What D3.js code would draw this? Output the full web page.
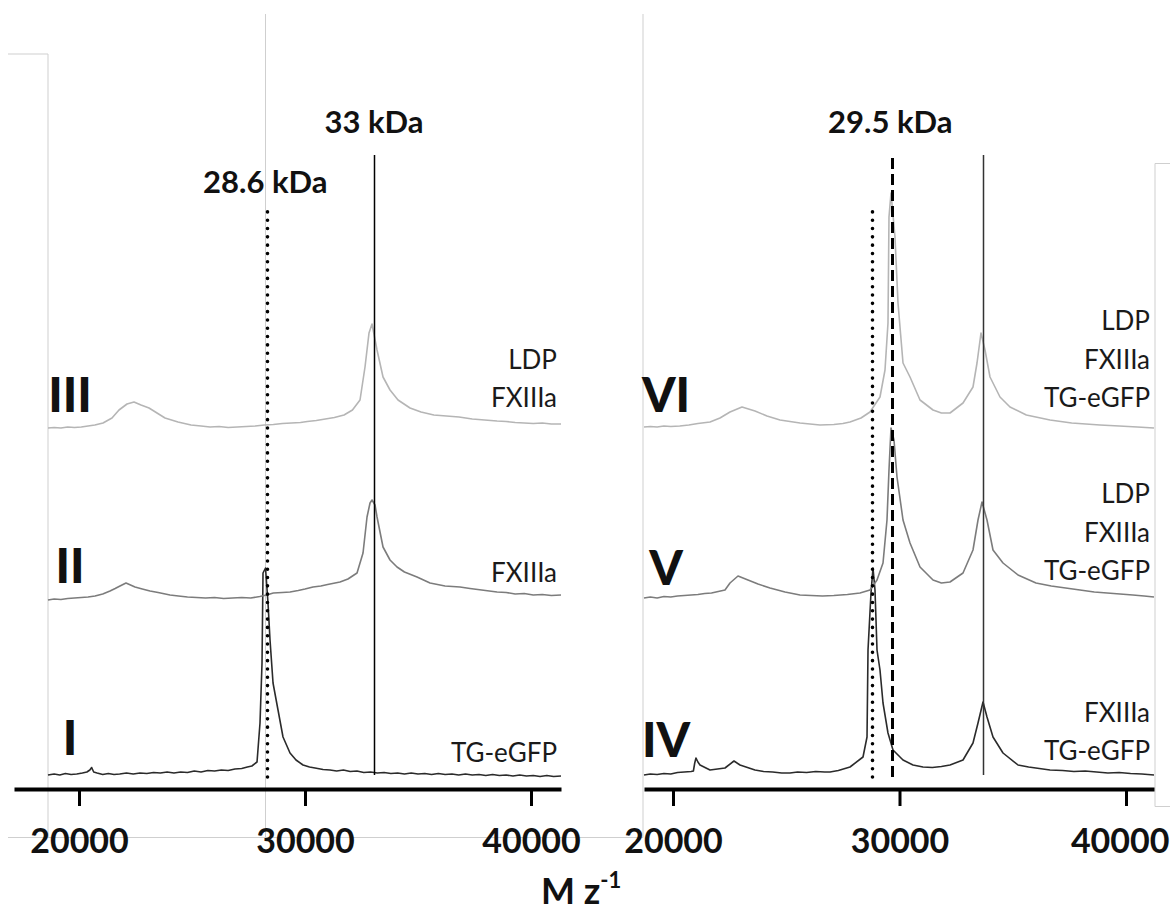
<!DOCTYPE html>
<html>
<head>
<meta charset="utf-8">
<script src="https://cdn.jsdelivr.net/npm/d3@7"></script>
<style>
  body { margin: 0; background: #fff; }
  svg text { font-family: Lato, "Open Sans", sans-serif; }
</style>
</head>
<body>
<svg id="chart" width="1170" height="911"></svg>
<script>
// Spectra: [mass (Da), intensity above its own baseline]
const traceI = [
  [18628, 0], [18900, 1], [19150, 0], [19400, 1.5], [19650, 0.5], [19900, 1], [20150, 2], [20350, 3],
  [20480, 5], [20560, 7.5], [20650, 3], [20800, 2], [21050, 0.5], [21300, 1.5], [21550, 0.5], [21800, 1],
  [22100, 2], [22400, 1], [22700, 2], [23000, 1.5], [23300, 2.5], [23600, 2], [23900, 3], [24200, 2],
  [24500, 3], [24800, 2.5], [25100, 4], [25400, 3], [25700, 4.5], [26000, 4], [26300, 5], [26600, 4.5],
  [26900, 6], [27200, 6.5], [27450, 8], [27650, 9], [27877, 13], [28009, 52], [28098, 112], [28142, 202],
  [28253, 207], [28363, 172], [28452, 135], [28585, 92], [28806, 65], [29027, 38], [29337, 22], [29602, 15],
  [29912, 10], [30200, 8], [30443, 7], [30800, 5.5], [31107, 5], [31400, 4], [31700, 5], [32000, 3.5],
  [32300, 4], [32600, 2.5], [32900, 3], [33200, 2], [33500, 2.5], [33800, 1.5], [34100, 2], [34400, 1],
  [34700, 2], [35000, 1], [35300, 1.5], [35600, 0.5], [35900, 1.5], [36200, 0.5], [36500, 1], [36800, 0],
  [37100, 1], [37400, 0], [37700, 0.5], [38000, -0.5], [38300, 0.5], [38600, -0.5], [38900, 0], [39200, -1],
  [39500, 0], [39800, -1], [40100, -0.5], [40400, -1.5], [40700, -0.5], [41000, -1.5], [41327, -1]
];
const traceII = [
  [18628, -1], [18900, 0], [19200, -0.5], [19500, 0.5], [19800, 1], [20100, 1.5], [20400, 2], [20708, 3],
  [21050, 5], [21372, 8], [21600, 10.5], [21814, 13], [22080, 16], [22478, 12], [22800, 10], [23142, 8],
  [23500, 6.5], [24027, 4], [24400, 3], [24800, 2], [25200, 1.5], [25600, 1], [26000, 1.5], [26400, 0.5],
  [26800, 1], [27200, 1.5], [27600, 1], [28000, 2.5], [28300, 4], [28600, 6], [29000, 6.5], [29337, 7],
  [29700, 8.5], [30000, 10], [30355, 12], [30700, 13], [31000, 14.5], [31549, 17], [31900, 20], [32302, 26],
  [32567, 46], [32744, 82], [32877, 96], [32965, 99], [33098, 94], [33187, 82], [33452, 52], [33762, 39],
  [34072, 32], [34400, 27], [34957, 22], [35532, 16], [36196, 13], [36859, 12], [37300, 10.5], [38497, 7],
  [38900, 6.5], [39300, 5], [39700, 5.5], [40100, 4], [40500, 4.5], [40900, 3.5], [41327, 4]
];
const traceIII = [
  [18628, 0], [18900, 0.5], [19200, 0], [19500, 1], [19800, 0.5], [20100, 1], [20400, 2], [20700, 3],
  [21062, 5], [21460, 10], [21770, 18], [22124, 24], [22434, 26], [22744, 23], [23098, 20], [23452, 15],
  [23806, 10], [24381, 6], [24956, 3], [25400, 2], [25800, 1], [26200, 1.5], [26600, 0.5], [27000, 1],
  [27400, 1.5], [27800, 2], [28200, 3], [28600, 3.5], [29000, 4.5], [29400, 5], [29800, 5.5], [30100, 6.5],
  [30500, 7.5], [30900, 9], [31300, 10.5], [31726, 13], [32100, 18], [32434, 28], [32655, 61], [32832, 95],
  [32965, 104], [33187, 78], [33452, 51], [33762, 38], [34116, 28], [34647, 20], [35133, 16], [35700, 13],
  [36815, 11], [37400, 9], [38497, 7], [38900, 6.5], [39300, 5.5], [39700, 5], [40100, 4.5], [40500, 5],
  [40900, 4], [41327, 4]
];
const traceIV = [
  [18720, 0], [19000, 1], [19300, 0.5], [19600, 1.5], [19900, 1], [20200, 2.5], [20500, 3], [20800, 3.5],
  [20900, 4], [20960, 12], [21015, 17], [21100, 13], [21192, 10], [21634, 5], [22296, 7], [22693, 14],
  [22958, 10], [23620, 5], [24000, 3.5], [24400, 3], [24800, 2], [25165, 2], [25500, 3], [25900, 2.5],
  [26300, 3.5], [26700, 3], [26932, 3], [27300, 4.5], [27815, 8], [28389, 18], [28566, 38], [28610, 125],
  [28742, 182], [28830, 207], [28918, 185], [29007, 125], [29139, 105], [29272, 72], [29492, 42], [29713, 25],
  [30155, 15], [30596, 10], [31038, 8], [31450, 7.5], [31850, 8.5], [32230, 10], [32804, 15], [33245, 32],
  [33466, 52], [33687, 73], [33863, 58], [34128, 38], [34570, 22], [35232, 10], [35700, 8], [36645, 5],
  [37200, 4.5], [37700, 3.5], [38200, 4], [38700, 3], [39200, 2], [39700, 2.5], [40200, 1.5], [40700, 1],
  [41236, 0]
];
const traceV = [
  [18720, 0], [19000, 1], [19300, 0], [19600, 1.5], [19900, 1], [20200, 2], [20500, 2.5], [20800, 3],
  [21100, 3.5], [21400, 4.5], [21700, 5], [22296, 8], [22517, 15], [22870, 22], [23311, 18], [23753, 14],
  [24283, 10], [24945, 6], [25607, 3], [26100, 2.5], [26600, 2], [27100, 2.5], [27700, 3.5], [28256, 5],
  [28698, 8], [29007, 18], [29272, 35], [29448, 78], [29536, 128], [29625, 170], [29757, 158], [29890, 121],
  [30155, 78], [30464, 55], [30906, 31], [31480, 18], [31850, 15], [32230, 16], [32804, 25], [33245, 48],
  [33466, 78], [33643, 96], [33863, 78], [34128, 48], [34570, 35], [35232, 23], [36026, 15], [36700, 12],
  [37969, 8], [38600, 6], [39735, 4], [40300, 3], [40800, 2], [41236, 1]
];
const traceVI = [
  [18720, 0], [19000, 0.5], [19300, 0], [19600, 1], [19900, 0.5], [20300, 1], [20700, 2], [21100, 3.5],
  [21634, 5], [22075, 9], [22517, 15], [23046, 20], [23620, 16], [24150, 11], [24724, 7], [25607, 4],
  [26490, 2], [27100, 2.5], [27500, 3.5], [27815, 5], [28300, 9], [28698, 15], [29139, 30], [29360, 57],
  [29492, 104], [29536, 210], [29625, 234], [29801, 190], [29934, 124], [30155, 64], [30464, 50], [30906, 27],
  [31480, 17], [31850, 14], [32230, 14], [32804, 24], [33245, 40], [33422, 64], [33598, 94], [33775, 77],
  [33996, 50], [34437, 30], [34879, 20], [35600, 12], [36645, 7], [37600, 4], [38852, 2], [39700, 1],
  [40500, 0], [41236, -1]
];

// Vertical offsets of the stacked spectra (same intensity units)
const leftOffsets = [14, 190, 361];
const rightOffsets = [14, 191, 362];

const leftNumerals = ["I", "II", "III"];
const rightNumerals = ["IV", "V", "VI"];
const leftSamples = [["TG-eGFP"], ["FXIIIa"], ["LDP", "FXIIIa"]];
const rightSamples = [["FXIIIa", "TG-eGFP"], ["LDP", "FXIIIa", "TG-eGFP"], ["LDP", "FXIIIa", "TG-eGFP"]];

const tickValues = [20000, 30000, 40000];

// Reference masses marked by vertical lines
const leftMarkerMasses = [28330, 33050];
const leftMarkerLabels = ["28.6 kDa", "33 kDa"];
const rightMarkerMasses = [28800, 29680, 33690];
const rightMarkerLabels = ["", "29.5 kDa", ""];

const svg = d3.select("#chart");
const y = d3.scaleLinear().domain([0, 775]).range([789, 14]);

const traceColors = ["#2b2b2b", "#7c7c7c", "#b5b5b5"];

// Faint frame lines left over from the composite figure
const frame = svg.append("g").attr("stroke", "#cfcfcf").attr("stroke-width", 1).attr("fill", "none");
[
  [[8, 54], [48, 54], [48, 837]],
  [[265.5, 14], [265.5, 837]],
  [[8, 837.5], [643, 837.5], [643, 14]],
  [[1170, 163.5], [1155, 163.5], [1155, 806.5], [1170, 806.5]]
].forEach((pts) => frame.append("path").attr("d", d3.line()(pts)));

function drawPanel(cfg) {
  const g = svg.append("g");
  const x = d3.scaleLinear().domain(cfg.axisDomain).range(cfg.axisRange);

  const line = d3
    .line()
    .x((d) => x(d[0]))
    .curve(d3.curveLinear);

  // Spectra
  cfg.traces.forEach((trace, i) => {
    g.append("path")
      .datum(trace)
      .attr("fill", "none")
      .attr("stroke", traceColors[i])
      .attr("stroke-width", 1.6)
      .attr("stroke-linejoin", "round")
      .attr("d", line.y((d) => y(d[1] + cfg.offsets[i])));
  });

  // Marker lines (snapped to the pixel grid so the dots stay crisp)
  cfg.markers.forEach((m, i) => {
    const style = cfg.markerStyles[i];
    const px = Math.round(x(m)) + 0.5;
    const mark = g.append("line")
      .attr("x1", px)
      .attr("x2", px)
      .attr("y1", y(style === "solid" ? 14 : 12))
      .attr("y2", y(style === "dotted" ? 579 : 634));

    if (style === "dotted") {
      mark.attr("stroke", "#000").attr("stroke-width", 3.6)
        .attr("stroke-linecap", "round").attr("stroke-dasharray", "0.01 8.3");
    } else if (style === "dashed") {
      mark.attr("stroke", "#000").attr("stroke-width", 3).attr("stroke-dasharray", "11 5");
    } else {
      mark.attr("stroke", cfg.solidColor).attr("stroke-width", 1.5);
    }
  });

  cfg.markerLabels.forEach((label, i) => {
    if (!label) return;
    g.append("text")
      .attr("x", x(cfg.markers[i]) + (cfg.labelShift[i] || 0))
      .attr("y", y(cfg.labelLevels[i]))
      .attr("text-anchor", "middle")
      .attr("font-size", 31)
      .attr("font-weight", "bold")
      .attr("fill", "#111")
      .text(label);
  });

  // Roman numerals and sample names
  const xStart = x(cfg.traceDomain[0]);
  const xEnd = x(cfg.traceDomain[1]);
  cfg.numerals.forEach((n, i) => {
    g.append("text")
      .attr("x", xStart + 22)
      .attr("y", y(cfg.offsets[i] + cfg.numeralLift[i]))
      .attr("text-anchor", "middle")
      .attr("font-size", 48)
      .attr("font-weight", 900)
      .attr("fill", "#111")
      .text(n);
  });

  cfg.samples.forEach((lines, i) => {
    lines.forEach((s, j) => {
      g.append("text")
        .attr("x", xEnd - 4)
        .attr("y", y(cfg.offsets[i] + cfg.sampleLift[i] + (lines.length - 1 - j) * 38.5))
        .attr("text-anchor", "end")
        .attr("font-size", 26)
        .attr("fill", "#1a1a1a")
        .text(s);
    });
  });

  // Axis
  const axis = d3
    .axisBottom(x)
    .tickValues(tickValues)
    .tickSize(17)
    .tickSizeOuter(0)
    .tickFormat(d3.format("d"));

  const ax = g.append("g").attr("transform", `translate(0,${y(0)})`).call(axis);
  ax.select(".domain").attr("stroke", "#000").attr("stroke-width", 4);
  ax.selectAll(".tick line").attr("stroke", "#000").attr("stroke-width", 3);
  ax.selectAll(".tick text")
    .attr("y", 64)
    .attr("dy", null)
    .attr("fill", "#111")
    .attr("font-size", 34)
    .attr("font-weight", "bold")
    .attr("font-family", "Lato, 'Open Sans', sans-serif");

  // keep the last label inside the page edge
  if (cfg.lastTickEnd) {
    ax.selectAll(".tick text")
      .filter((d) => d === tickValues[tickValues.length - 1])
      .attr("text-anchor", "end")
      .attr("x", cfg.lastTickEnd - x(tickValues[tickValues.length - 1]));
  }
}

drawPanel({
  traces: [traceI, traceII, traceIII],
  offsets: leftOffsets,
  axisDomain: [17124, 41327],
  axisRange: [14, 561],
  traceDomain: [18628, 41327],
  markers: leftMarkerMasses,
  markerStyles: ["dotted", "solid"],
  markerLabels: leftMarkerLabels,
  labelLevels: [596, 656],
  labelShift: [-2, 0],
  solidColor: "#000",
  numerals: leftNumerals,
  numeralLift: [20, 16, 16],
  samples: leftSamples,
  sampleLift: [13, 17, 21]
});

drawPanel({
  traces: [traceIV, traceV, traceVI],
  offsets: rightOffsets,
  axisDomain: [18720, 41236],
  axisRange: [644, 1154],
  traceDomain: [18720, 41236],
  markers: rightMarkerMasses,
  markerStyles: ["dotted", "dashed", "solid"],
  markerLabels: rightMarkerLabels,
  labelLevels: [0, 656, 0],
  labelShift: [0, -2, 0],
  solidColor: "#333",
  numerals: rightNumerals,
  numeralLift: [18, 13, 15],
  samples: rightSamples,
  sampleLift: [15, 18, 20],
  lastTickEnd: 1169
});

// Shared x-axis title
svg.append("text")
  .attr("x", 541)
  .attr("y", 904)
  .attr("font-size", 36)
  .attr("font-weight", "bold")
  .attr("fill", "#111")
  .text("M z")
  .append("tspan")
  .attr("dy", -16)
  .attr("font-size", 22)
  .text("-1");
</script>
</body>
</html>
